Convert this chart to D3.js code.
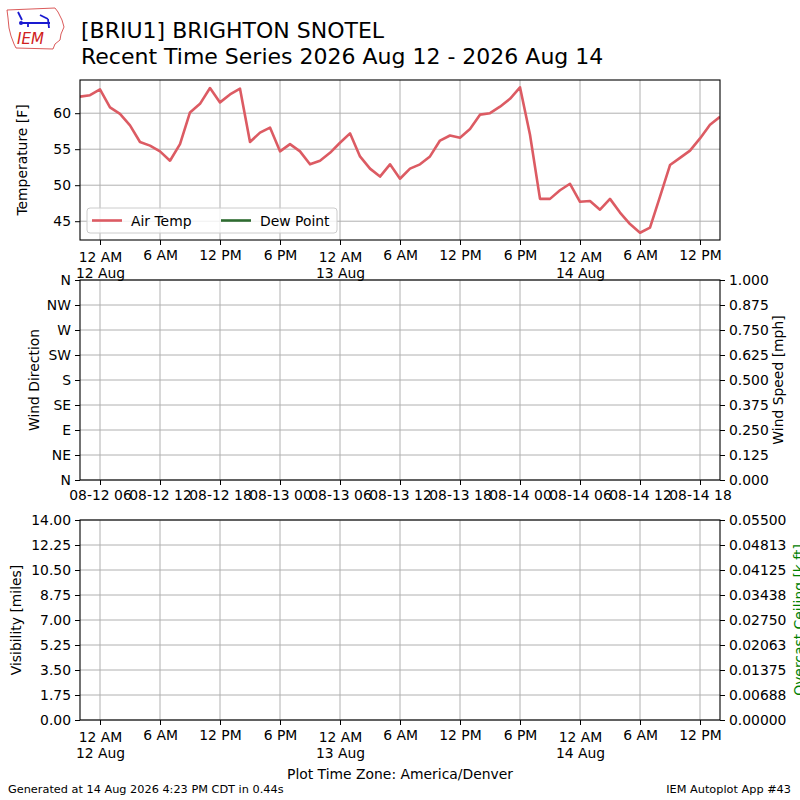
<!DOCTYPE html>
<html><head><meta charset="utf-8">
<script src="https://cdn.jsdelivr.net/npm/d3@7"></script>
<style>body{margin:0;background:#fff} svg text{font-family:"DejaVu Sans",sans-serif}</style>
</head><body><svg id="c" width="800" height="800" xmlns="http://www.w3.org/2000/svg"></svg>
<script>
// ---------- DATA ----------
const startTime = "2026-08-11T22:00:00Z";   // first hourly observation
const endTime   = "2026-08-14T14:00:00Z";
// hourly Air Temp [F] from 11 Aug 22:00 to 14 Aug 14:00 (America/Denver)
const airTemp = [62.3, 62.5,
  63.3, 60.8, 59.9, 58.3, 56.0, 55.5, 54.7, 53.4, 55.7, 60.1, 61.3, 63.5,
  61.5, 62.6, 63.4, 56.0, 57.3, 58.0, 54.7, 55.7, 54.7, 52.9, 53.4, 54.5,
  55.9, 57.2, 54.0, 52.3, 51.2, 52.9, 50.9, 52.3, 52.9, 54.0, 56.2, 56.9,
  56.6, 57.8, 59.8, 60.0, 60.9, 62.0, 63.6, 57.0, 48.1, 48.1, 49.3, 50.2,
  47.7, 47.8, 46.6, 48.1, 46.2, 44.6, 43.4, 44.1, 48.4, 52.8, 53.8, 54.8,
  56.5, 58.4, 59.5];
const dewPoint = []; // no dew point reported
const tempTicks = [45, 50, 55, 60];
const timeTicks = ["2026-08-12T00:00:00Z","2026-08-12T06:00:00Z","2026-08-12T12:00:00Z","2026-08-12T18:00:00Z",
  "2026-08-13T00:00:00Z","2026-08-13T06:00:00Z","2026-08-13T12:00:00Z","2026-08-13T18:00:00Z",
  "2026-08-14T00:00:00Z","2026-08-14T06:00:00Z","2026-08-14T12:00:00Z"];
const timeTickLabels = ["12 AM","6 AM","12 PM","6 PM","12 AM","6 AM","12 PM","6 PM","12 AM","6 AM","12 PM"];
const timeTickDates  = ["12 Aug","","","","13 Aug","","","","14 Aug","",""];
const windTimeTicks = ["08-12 06","08-12 12","08-12 18","08-13 00","08-13 06","08-13 12","08-13 18","08-14 00","08-14 06","08-14 12","08-14 18"];
const windDirTicks = [0,45,90,135,180,225,270,315,360];
const windDirLabels = ["N","NE","E","SE","S","SW","W","NW","N"];
const windSpeedTicks = [0,0.125,0.25,0.375,0.5,0.625,0.75,0.875,1.0];
const windSpeedLabels = ["0.000","0.125","0.250","0.375","0.500","0.625","0.750","0.875","1.000"];
const visTicks = [0,1.75,3.5,5.25,7,8.75,10.5,12.25,14];
const visLabels = ["0.00","1.75","3.50","5.25","7.00","8.75","10.50","12.25","14.00"];
const ceilTicks = [0,0.006875,0.01375,0.020625,0.0275,0.034375,0.04125,0.048125,0.055];
const ceilLabels = ["0.00000","0.00688","0.01375","0.02063","0.02750","0.03438","0.04125","0.04813","0.05500"];

// ---------- LAYOUT ----------
const svg = d3.select("#c");
const L = 80, R = 720;
const P = {top:[80,240], mid:[280,480], bot:[520,720]};
const FS = 13.9, GRID = "#b0b0b0", TEMPC = "#dc5b63", DEWC = "#2e6b30";
svg.append("rect").attr("width",800).attr("height",800).attr("fill","#fff");

const t0 = new Date(startTime), t1 = new Date(endTime);
const x = d3.scaleUtc().domain([t0, t1]).range([L, R]);
const xTicks = timeTicks.map(s => new Date(s));
const series = airTemp.map((v,i) => ({t: d3.utcHour.offset(t0, i), v}));

const ext = d3.extent(airTemp), pad = (ext[1]-ext[0])*0.05;
const yT = d3.scaleLinear().domain([ext[0]-pad, ext[1]+pad]).range([P.top[1], P.top[0]]);
const yDir = d3.scaleLinear().domain([0,360]).range([P.mid[1], P.mid[0]]);
const ySpd = d3.scaleLinear().domain([0,1]).range([P.mid[1], P.mid[0]]);
const yVis = d3.scaleLinear().domain([0,14]).range([P.bot[1], P.bot[0]]);
const yCeil = d3.scaleLinear().domain([0,0.055]).range([P.bot[1], P.bot[0]]);

function grid(yscale, yticks, pan){
  const g = svg.append("g").attr("stroke", GRID).attr("stroke-width", 1);
  xTicks.forEach(t => g.append("line").attr("x1", x(t)).attr("x2", x(t)).attr("y1", pan[0]).attr("y2", pan[1]));
  yticks.forEach(v => g.append("line").attr("x1", L).attr("x2", R).attr("y1", yscale(v)).attr("y2", yscale(v)));
}
grid(yT, tempTicks, P.top);
grid(yDir, windDirTicks, P.mid);
grid(yVis, visTicks, P.bot);

// temperature line
svg.append("clipPath").attr("id","clipTop").append("rect").attr("x",L).attr("y",P.top[0]).attr("width",R-L).attr("height",P.top[1]-P.top[0]);
const line = d3.line().x(d => x(d.t)).y(d => yT(d.v));
svg.append("path").datum(series).attr("d", line).attr("clip-path","url(#clipTop)")
  .attr("fill","none").attr("stroke", TEMPC).attr("stroke-width", 2.6).attr("stroke-linejoin","round");
svg.append("path").datum(dewPoint).attr("d", line).attr("fill","none").attr("stroke", DEWC).attr("stroke-width", 2.6);

function styleAxis(g){
  g.selectAll(".domain").remove();
  g.selectAll(".tick line").attr("stroke","#000").attr("stroke-width",1);
  g.selectAll(".tick text").attr("font-size", FS).attr("fill","#000").attr("font-family","DejaVu Sans");
  return g;
}
function timeAxis(pan){
  const g = svg.append("g").attr("transform", `translate(0,${pan[1]})`)
    .call(d3.axisBottom(x).tickValues(xTicks).tickSize(5).tickFormat(""));
  styleAxis(g);
  g.selectAll(".tick").each(function(d,i){
    const two = timeTickDates[i] !== "";
    const tx = d3.select(this).append("text").attr("text-anchor","middle").attr("font-size",FS).attr("fill","#000");
    tx.append("tspan").attr("x",0).attr("y", two ? 22 : 20).text(timeTickLabels[i]);
    if (two) tx.append("tspan").attr("x",0).attr("y", 37.5).text(timeTickDates[i]);
  });
}
// top panel axes
styleAxis(svg.append("g").attr("transform",`translate(${L},0)`)
  .call(d3.axisLeft(yT).tickValues(tempTicks).tickSize(5).tickPadding(4)));
timeAxis(P.top);

// middle panel axes (own time labels)
styleAxis(svg.append("g").attr("transform",`translate(${L},0)`)
  .call(d3.axisLeft(yDir).tickValues(windDirTicks).tickSize(5).tickPadding(4).tickFormat((d,i)=>windDirLabels[i])));
styleAxis(svg.append("g").attr("transform",`translate(${R},0)`)
  .call(d3.axisRight(ySpd).tickValues(windSpeedTicks).tickSize(5).tickPadding(4).tickFormat((d,i)=>windSpeedLabels[i])));
const gm = styleAxis(svg.append("g").attr("transform",`translate(0,${P.mid[1]})`)
  .call(d3.axisBottom(x).tickValues(xTicks).tickSize(5).tickPadding(3).tickFormat((d,i)=>windTimeTicks[i])));
gm.selectAll(".tick text").attr("y",null).attr("dy",null).attr("y",20);

// bottom panel axes
styleAxis(svg.append("g").attr("transform",`translate(${L},0)`)
  .call(d3.axisLeft(yVis).tickValues(visTicks).tickSize(5).tickPadding(4).tickFormat((d,i)=>visLabels[i])));
styleAxis(svg.append("g").attr("transform",`translate(${R},0)`)
  .call(d3.axisRight(yCeil).tickValues(ceilTicks).tickSize(5).tickPadding(4).tickFormat((d,i)=>ceilLabels[i])));
timeAxis(P.bot);

// frames
Object.values(P).forEach(p => svg.append("rect").attr("x",L).attr("y",p[0]).attr("width",R-L).attr("height",p[1]-p[0])
  .attr("fill","none").attr("stroke","#000").attr("stroke-width",1.1));

// axis labels
function vlabel(txt, xx, yy, color){
  svg.append("text").attr("transform",`translate(${xx},${yy}) rotate(-90)`).attr("text-anchor","middle")
    .attr("font-size",FS).attr("fill",color||"#000").text(txt);
}
vlabel("Temperature [F]", 27, 160);
vlabel("Wind Direction", 39, 380);
vlabel("Wind Speed [mph]", 783, 380);
vlabel("Visibility [miles]", 21, 620);
vlabel("Overcast Ceiling [k ft]", 804, 620, "green");

// legend
const lg = svg.append("g");
lg.append("rect").attr("x",87).attr("y",208).attr("width",250).attr("height",25).attr("rx",3)
  .attr("fill","#fff").attr("fill-opacity",0.8).attr("stroke","#cccccc").attr("stroke-width",1);
const legendItems = [{name:"Air Temp", color:TEMPC, x:92},{name:"Dew Point", color:DEWC, x:221}];
legendItems.forEach(it => {
  lg.append("line").attr("x1",it.x).attr("x2",it.x+30).attr("y1",220.5).attr("y2",220.5).attr("stroke",it.color).attr("stroke-width",2.6);
  lg.append("text").attr("x",it.x+39).attr("y",225.5).attr("font-size",FS).attr("fill","#000").text(it.name);
});

// titles
svg.append("text").attr("x",81).attr("y",38).attr("font-size",22).attr("fill","#000").text("[BRIU1] BRIGHTON SNOTEL");
svg.append("text").attr("x",81).attr("y",64).attr("font-size",22).attr("fill","#000").text("Recent Time Series 2026 Aug 12 - 2026 Aug 14");
svg.append("text").attr("x",400).attr("y",779).attr("text-anchor","middle").attr("font-size",FS).attr("fill","#000").text("Plot Time Zone: America/Denver");
svg.append("text").attr("x",8).attr("y",793).attr("font-size",11.3).attr("fill","#000").text("Generated at 14 Aug 2026 4:23 PM CDT in 0.44s");
svg.append("text").attr("x",791).attr("y",793).attr("text-anchor","end").attr("font-size",11.3).attr("fill","#000").text("IEM Autoplot App #43");

// logo
const logo = svg.append("g");
logo.append("path").attr("d","M7,10 L55,8 L58,12 L62,20 L64,27 L61,34 L60,40 L55,44 L53,49 L16,48 L14,44 L11,36 L9,28 L8,18 Z")
  .attr("fill","#fff").attr("stroke","#d03030").attr("stroke-width",0.8);
logo.append("path").attr("d","M18,12 L22,20 M20,23 L50,23 M40,15 L48,19 M48,19 L49,28 M28,23 L28,27")
  .attr("fill","none").attr("stroke","#1a1ad0").attr("stroke-width",1.8);
logo.append("circle").attr("cx",21).attr("cy",23).attr("r",2).attr("fill","#1a1ad0");
logo.append("text").attr("x",17).attr("y",44).attr("font-family","Liberation Serif, DejaVu Serif, serif")
  .attr("font-style","italic").attr("font-size",15).attr("fill","#d02020").text("IEM");
</script></body></html>
